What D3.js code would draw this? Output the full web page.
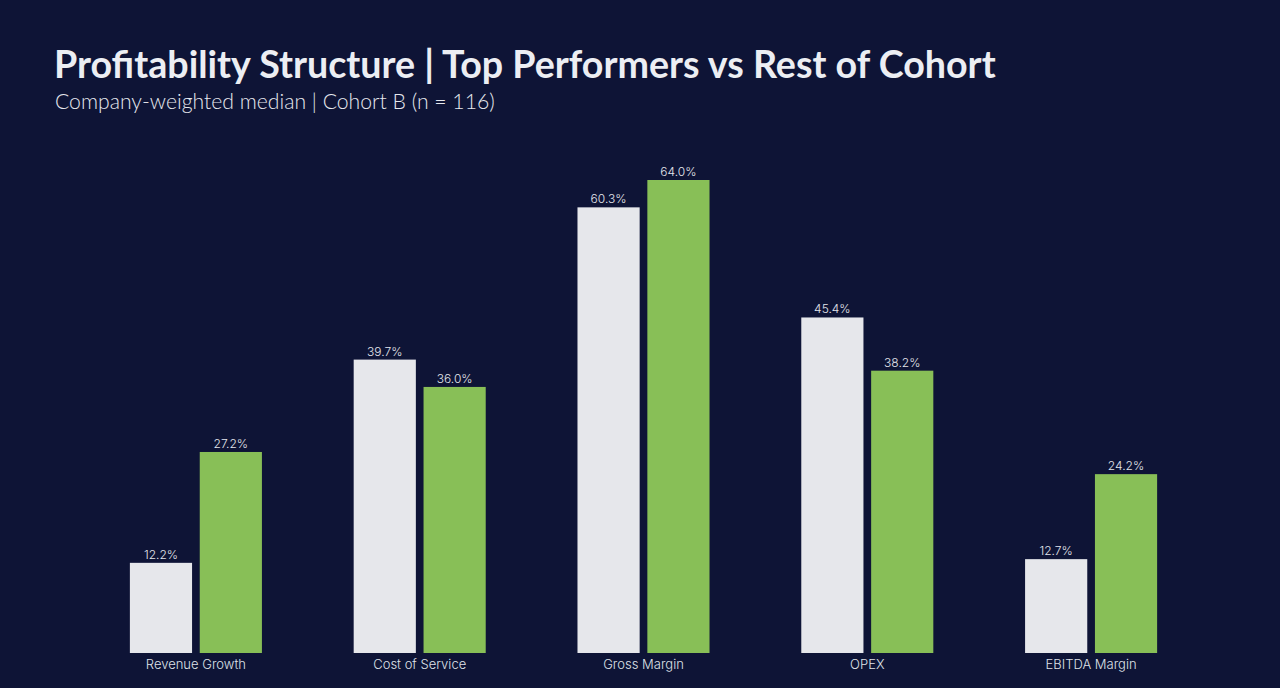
<!DOCTYPE html>
<html><head><meta charset="utf-8">
<script src="https://cdn.jsdelivr.net/npm/d3@7"></script>
<style>
html,body{margin:0;padding:0;background:#0e1436;}
svg{display:block;}
</style></head>
<body>
<svg id="chart" width="1280" height="688"></svg>
<script>
const categories = ["Revenue Growth", "Cost of Service", "Gross Margin", "OPEX", "EBITDA Margin"];
const seriesNames = ["Rest of Cohort", "Top Performers"];
const restValues = [12.2, 39.7, 60.3, 45.4, 12.7];
const topValues = [27.2, 36.0, 64.0, 38.2, 24.2];
const titleText = "Profitability Structure | Top Performers vs Rest of Cohort";
const subtitleText = "Company-weighted median | Cohort B (n = 116)";

const W = 1280, H = 688;
const colors = {"Rest of Cohort": "#e6e7eb", "Top Performers": "#88bf57"};
const svg = d3.select("#chart");
svg.append("rect").attr("width", W).attr("height", H).attr("fill", "#0e1436");

function fitText(sel, target) {
  const len = sel.node().getComputedTextLength();
  const fs = parseFloat(sel.attr("font-size"));
  sel.attr("font-size", fs * target / len);
}

const title = svg.append("text").attr("x", 54).attr("y", 78)
  .attr("font-family", "Lato, 'Open Sans', sans-serif").attr("font-weight", 700)
  .attr("font-size", 34).attr("fill", "#eceef3").text(titleText);
fitText(title, 942);

const sub = svg.append("text").attr("x", 55).attr("y", 109)
  .attr("font-family", "Lato, 'Open Sans', sans-serif").attr("font-weight", 300)
  .attr("font-size", 20).attr("fill", "#e6e8ee").text(subtitleText);
fitText(sub, 440);

const data = categories.map((c, i) => ({cat: c, vals: [
  {s: seriesNames[0], v: restValues[i]},
  {s: seriesNames[1], v: topValues[i]}]}));

const x0 = d3.scaleBand().domain(categories).range([84, 1203])
  .paddingInner(0.41).paddingOuter(0.205);
const x1 = d3.scaleBand().domain(seriesNames).range([0, x0.bandwidth()]).paddingInner(0.11);
const y = d3.scaleLinear().domain([0, 64]).range([653, 180]);

const g = svg.append("g").selectAll("g").data(data).join("g")
  .attr("transform", d => `translate(${x0(d.cat)},0)`);

g.selectAll("rect").data(d => d.vals).join("rect")
  .attr("x", d => x1(d.s)).attr("width", x1.bandwidth())
  .attr("y", d => y(d.v)).attr("height", d => y(0) - y(d.v))
  .attr("fill", d => colors[d.s]);

g.selectAll("text.val").data(d => d.vals).join("text").attr("class", "val")
  .attr("x", d => x1(d.s) + x1.bandwidth() / 2).attr("y", d => y(d.v) - 4)
  .attr("text-anchor", "middle")
  .attr("font-family", "Inter, 'Open Sans', sans-serif").attr("font-size", 12)
  .attr("font-weight", 300)
  .attr("fill", "#e4e6ec").text(d => d.v.toFixed(1) + "%");

const xAxis = svg.append("g").attr("transform", `translate(0,${y(0)})`)
  .call(d3.axisBottom(x0).tickSize(0).tickPadding(7));
xAxis.select(".domain").remove();
xAxis.selectAll("text").attr("font-family", "Inter, 'Open Sans', sans-serif")
  .attr("font-size", 13).attr("font-weight", 300).attr("fill", "#dfe1e8");
</script>
</body></html>
